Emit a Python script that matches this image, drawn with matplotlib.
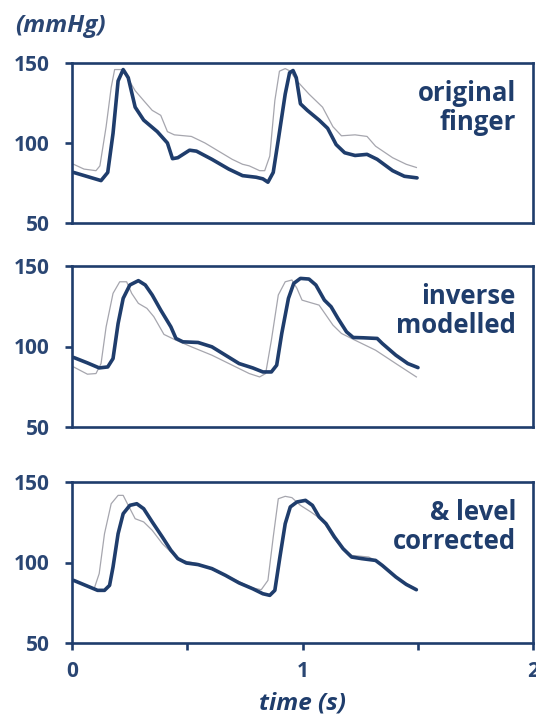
import matplotlib
matplotlib.use("Agg")
import matplotlib.pyplot as plt

plt.rcParams["font.family"] = ["Open Sans", "DejaVu Sans"]

navy = "#1f3d6c"
txt = "#2a4673"
grey = "#a6a6ae"

# panel 1: original finger
t1_thick = [0.007, 0.126, 0.155, 0.178, 0.2, 0.222, 0.244, 0.274, 0.311, 0.37, 0.414, 0.436, 0.459,
            0.51, 0.54, 0.607, 0.68, 0.74, 0.799, 0.828, 0.85, 0.873, 0.895, 0.925, 0.944, 0.959,
            0.973, 0.991, 1.021, 1.072, 1.109, 1.146, 1.183, 1.228, 1.28, 1.324, 1.391, 1.442, 1.497]
p1_thick = [81.6, 76.5, 81.6, 106, 138.8, 145.9, 140.8, 122.4, 114.3, 107.1, 100, 90.2, 90.8,
            95.5, 94.9, 89.8, 83.7, 79.6, 78.6, 77.6, 75.5, 81.6, 102, 130.6, 143.9, 145.3,
            140.8, 124.5, 120.4, 114.3, 109.2, 99, 93.9, 92.2, 92.9, 89.8, 82.7, 79.2, 78.2]
t1_thin = [0.007, 0.052, 0.104, 0.121, 0.148, 0.17, 0.185, 0.214, 0.237, 0.274, 0.311, 0.348, 0.385,
           0.414, 0.444, 0.518, 0.577, 0.636, 0.695, 0.74, 0.769, 0.814, 0.836, 0.858, 0.88, 0.9,
           0.925, 0.947, 0.976, 1.028, 1.087, 1.132, 1.169, 1.228, 1.28, 1.317, 1.391, 1.45, 1.494]
p1_thin = [86.7, 83.7, 82.7, 85.7, 110.2, 134.7, 145.9, 145.9, 141.8, 132.7, 126.5, 120.4, 117.3,
           107.1, 105.1, 104.1, 100, 94.9, 89.8, 86.7, 85.7, 82.7, 82.7, 91.8, 126.5, 144.9,
           146.5, 144.9, 138.8, 130.6, 122.4, 110.2, 104.5, 105.1, 104.1, 98, 90.8, 86.7, 84.7]

# panel 2: inverse modelled
t2_thick = [0.007, 0.067, 0.118, 0.155, 0.178, 0.2, 0.222, 0.251, 0.288, 0.318, 0.348, 0.385, 0.429,
            0.451, 0.481, 0.547, 0.607, 0.666, 0.725, 0.784, 0.828, 0.865, 0.888, 0.91, 0.939,
            0.962, 0.991, 1.028, 1.058, 1.095, 1.124, 1.154, 1.191, 1.22, 1.265, 1.324, 1.346,
            1.405, 1.457, 1.501]
p2_thick = [93.2, 89.8, 86.7, 87.3, 92.5, 114.3, 129.9, 138.2, 140.9, 138.2, 132, 122.6, 112.2,
            105, 102.9, 102.5, 99.8, 94.6, 89.4, 86.7, 84.2, 84.2, 88.4, 108.1, 129.9,
            139.2, 142.3, 141.9, 138.2, 128.8, 124.7, 117.4, 109.1, 105.6, 105.4, 105, 101.9,
            94.6, 89.4, 86.9]
t2_thin = [0.007, 0.067, 0.104, 0.126, 0.148, 0.178, 0.207, 0.237, 0.259, 0.288, 0.325, 0.355, 0.399,
           0.444, 0.518, 0.607, 0.695, 0.769, 0.814, 0.84, 0.865, 0.895, 0.925, 0.954, 0.976,
           0.998, 1.036, 1.072, 1.102, 1.132, 1.169, 1.228, 1.317, 1.405, 1.494]
p2_thin = [87.3, 82.8, 83.2, 89.4, 112.2, 133, 140.2, 140.2, 133, 126.8, 123.7, 118.5, 107.5,
           104.4, 99.8, 94.6, 88.4, 83.2, 81.1, 83.2, 103.9, 132, 140.2, 141.3, 136.1,
           128.8, 127.2, 125.7, 119.5, 113.3, 108.1, 103.9, 97.7, 89.4, 81.1]

# panel 3: & level corrected
t3_thick = [0.007, 0.059, 0.111, 0.141, 0.163, 0.178, 0.2, 0.222, 0.251, 0.281, 0.311, 0.348, 0.392,
            0.429, 0.459, 0.496, 0.547, 0.607, 0.666, 0.725, 0.784, 0.828, 0.858, 0.88, 0.902,
            0.925, 0.947, 0.976, 1.013, 1.043, 1.072, 1.102, 1.139, 1.176, 1.213, 1.257, 1.317,
            1.346, 1.405, 1.45, 1.494]
p3_thick = [88.9, 85.8, 82.7, 82.7, 85.8, 97.2, 117.9, 130.3, 135.5, 136.5, 133.4, 125.2, 115.8,
            107.6, 102.4, 99.7, 98.7, 96.2, 92, 87.3, 83.7, 80.6, 79.6, 82.7, 103.4,
            124.1, 134.5, 137.6, 138.6, 135.5, 128.3, 124.1, 115.8, 108.6, 103.4, 102.4, 101.3,
            98.2, 91, 86.4, 83.1]
t3_thin = [0.007, 0.096, 0.118, 0.141, 0.17, 0.2, 0.222, 0.244, 0.274, 0.311, 0.348, 0.392, 0.429,
           0.473, 0.547, 0.666, 0.784, 0.821, 0.85, 0.873, 0.895, 0.925, 0.954, 0.991, 1.036,
           1.087, 1.132, 1.169, 1.213, 1.287, 1.331, 1.405, 1.494]
p3_thin = [88.9, 83.7, 93.1, 117.9, 136.5, 141.7, 141.7, 135.5, 127.2, 125.2, 120, 111.7, 106.5,
           101.3, 99.3, 92, 84.2, 83.1, 88.9, 115.8, 139.6, 141.1, 140.3, 135.5, 131.4,
           126.2, 115.8, 109.6, 104.4, 103.4, 100.3, 91, 83.1]

labels = ["original\nfinger", "inverse\nmodelled", "& level\ncorrected"]
series = [(t1_thin, p1_thin, t1_thick, p1_thick),
          (t2_thin, p2_thin, t2_thick, p2_thick),
          (t3_thin, p3_thin, t3_thick, p3_thick)]

W, H = 536, 717
fig = plt.figure(figsize=(W / 100, H / 100), dpi=100)

# axes boxes in pixels: (top, bottom)
boxes = [(63, 223), (266, 427), (482, 643)]
left, right = 72, 533

axes = []
for (top, bot), lab, (tx, px, tk, pk) in zip(boxes, labels, series):
    ax = fig.add_axes([left / W, (H - bot) / H, (right - left) / W, (bot - top) / H])
    ax.plot(tx, px, color=grey, lw=0.9, solid_joinstyle="round")
    ax.plot(tk, pk, color=navy, lw=2.6, solid_joinstyle="round", solid_capstyle="round")
    ax.set_xlim(0, 2)
    ax.set_ylim(50, 150)
    ax.set_yticks([50, 100, 150])
    for s in ax.spines.values():
        s.set_color(navy)
        s.set_linewidth(1.9)
    ax.tick_params(axis="y", direction="out", length=5, width=1.9, color=navy,
                   labelsize=15, labelcolor=txt, pad=11)
    for t in ax.get_yticklabels():
        t.set_fontweight("bold")
    ax.text(0.963, 0.72, lab, transform=ax.transAxes, ha="right", va="center",
            fontsize=18.5, fontweight="bold", color=navy, linespacing=1.1)
    axes.append(ax)

for ax in axes[:2]:
    ax.tick_params(axis="x", bottom=False, labelbottom=False)

ax3 = axes[2]
ax3.set_xticks([0, 1, 2])
ax3.set_xticks([0.5, 1.5], minor=True)
ax3.tick_params(axis="x", which="both", direction="out", length=5, width=1.9, color=navy,
                labelsize=15, labelcolor=txt, pad=8)
for t in ax3.get_xticklabels():
    t.set_fontweight("bold")
ax3.set_xlabel("time (s)", fontsize=17.5, fontweight="bold", style="italic", color=navy, labelpad=7)

fig.text(15 / W, 1 - 26 / H, "(mmHg)", ha="left", va="center", fontsize=17.5,
         fontweight="bold", style="italic", color=txt)

fig.savefig("out.png", dpi=100)
